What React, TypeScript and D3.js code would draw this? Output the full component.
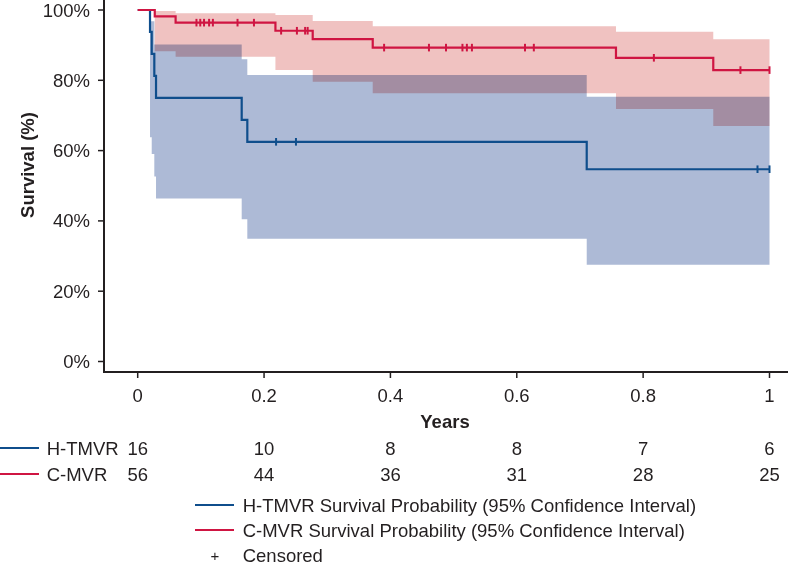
import React from "react";
import * as d3 from "d3";

// ---------- data ----------
const xTicks = [0, 0.2, 0.4, 0.6, 0.8, 1];
const xTickLabels = ["0", "0.2", "0.4", "0.6", "0.8", "1"];
const yTicks = [0, 20, 40, 60, 80, 100];
const yTickLabels = ["0%", "20%", "40%", "60%", "80%", "100%"];

// H-TMVR (blue)
const hTimes = [0, 0.0195, 0.0222, 0.0263, 0.029, 0.1646, 0.1735, 0.7107];
const hSurv = [100, 93.75, 87.5, 81.25, 75, 68.75, 62.5, 54.7];
const hUpper = [100, 96.8, 96.8, 90.2, 90.2, 86.0, 81.5, 75.3];
const hLower = [100, 63.8, 59.0, 52.6, 46.4, 40.5, 34.9, 27.5];
const hCensored = [0.219, 0.2505, 0.981, 1.0];

// C-MVR (red)
const cTimes = [0, 0.027, 0.06, 0.218, 0.277, 0.372, 0.757, 0.911];
const cSurv = [100, 98.2, 96.4, 94.1, 91.7, 89.3, 86.4, 82.9];
const cUpper = [100, 99.7, 99.1, 98.6, 96.9, 95.4, 93.8, 91.7];
const cLower = [100, 88.3, 86.7, 82.9, 79.6, 76.3, 71.8, 67.0];
const cCensored = [
  0.093, 0.099, 0.105, 0.113, 0.119, 0.158, 0.184, 0.227, 0.252, 0.265, 0.269,
  0.39, 0.461, 0.488, 0.514, 0.521, 0.529, 0.613, 0.627, 0.817, 0.954, 1.0,
];

const atRiskTimes = [0, 0.2, 0.4, 0.6, 0.8, 1];
const hAtRisk = [16, 10, 8, 8, 7, 6];
const cAtRisk = [56, 44, 36, 31, 28, 25];

const groupNames = ["H-TMVR", "C-MVR"];
const legendLabels = [
  "H-TMVR Survival Probability (95% Confidence Interval)",
  "C-MVR Survival Probability (95% Confidence Interval)",
  "Censored",
];

const END_TIME = 1.0;

// ---------- style ----------
const W = 788;
const H = 565;
const BLUE = "#0f4e8c";
const RED = "#cf1542";
const BLUE_BAND = "#adbad6";
const RED_BAND = "#f0c2c1";
const INK = "#231f20";
const FONT = "'Liberation Sans', Arial, Helvetica, sans-serif";
const FS = 18.5;

type Pt = { t: number; s: number; lo: number; hi: number };

function buildSeries(times: number[], surv: number[], lo: number[], hi: number[]): Pt[] {
  const pts = times.map((t, i) => ({ t, s: surv[i], lo: lo[i], hi: hi[i] }));
  const last = pts[pts.length - 1];
  pts.push({ t: END_TIME, s: last.s, lo: last.lo, hi: last.hi });
  return pts;
}

function survAt(times: number[], surv: number[], t: number) {
  let v = surv[0];
  for (let i = 0; i < times.length; i++) if (times[i] <= t + 1e-9) v = surv[i];
  return v;
}

export default function App() {
  const x = d3.scaleLinear().domain([0, 1]).range([137.7, 769.5]);
  const y = d3.scaleLinear().domain([0, 100]).range([361.5, 10]);

  const axisY = 372;
  const axisX = 104;

  const hSeries = buildSeries(hTimes, hSurv, hLower, hUpper);
  const cSeries = buildSeries(cTimes, cSurv, cLower, cUpper);

  const line = d3
    .line<Pt>()
    .x((d) => x(d.t))
    .y((d) => y(d.s))
    .curve(d3.curveStepAfter);
  const area = d3
    .area<Pt>()
    .x((d) => x(d.t))
    .y0((d) => y(d.lo))
    .y1((d) => y(d.hi))
    .curve(d3.curveStepAfter);

  const censorMarks = (times: number[], surv: number[], cens: number[], color: string, key: string) =>
    cens.map((t, i) => {
      const cx = x(t);
      const cy = y(survAt(times, surv, t));
      return (
        <line key={key + i} x1={cx} x2={cx} y1={cy - 3.8} y2={cy + 3.8} stroke={color} strokeWidth={2} />
      );
    });

  const rowY = [448, 474];
  const legendY = [505, 530, 555];

  return (
    <div>
      <style>{`body{margin:0}`}</style>
      <svg width={W} height={H} style={{ display: "block", fontFamily: FONT }}>
        <rect width={W} height={H} fill="#fff" />
        {/* bands */}
        <path d={area(hSeries.slice(1)) || ""} fill={BLUE_BAND} />
        <path d={area(cSeries.slice(1)) || ""} fill={RED_BAND} style={{ mixBlendMode: "multiply" }} />

        {/* KM lines */}
        <path d={line(hSeries) || ""} fill="none" stroke={BLUE} strokeWidth={2.2} />
        {censorMarks(hTimes, hSurv, hCensored, BLUE, "h")}
        <path d={line(cSeries) || ""} fill="none" stroke={RED} strokeWidth={2.2} />
        {censorMarks(cTimes, cSurv, cCensored, RED, "c")}

        {/* axes */}
        <line x1={axisX} x2={axisX} y1={0} y2={axisY + 1} stroke={INK} strokeWidth={2} />
        <line x1={axisX - 1} x2={W} y1={axisY} y2={axisY} stroke={INK} strokeWidth={2} />
        {yTicks.map((v, i) => (
          <g key={"yt" + i}>
            <line x1={axisX - 6} x2={axisX} y1={y(v)} y2={y(v)} stroke={INK} strokeWidth={1.5} />
            <text x={90} y={y(v)} textAnchor="end" dominantBaseline="central" fontSize={FS} fill={INK}>
              {yTickLabels[i]}
            </text>
          </g>
        ))}
        {xTicks.map((v, i) => (
          <g key={"xt" + i}>
            <line x1={x(v)} x2={x(v)} y1={axisY} y2={axisY + 6} stroke={INK} strokeWidth={1.5} />
            <text x={x(v)} y={395} textAnchor="middle" dominantBaseline="central" fontSize={FS} fill={INK}>
              {xTickLabels[i]}
            </text>
          </g>
        ))}
        <text x={445} y={421} textAnchor="middle" dominantBaseline="central" fontSize={FS} fontWeight="bold" fill={INK}>
          Years
        </text>
        <text
          transform={`translate(27,165) rotate(-90)`}
          textAnchor="middle"
          dominantBaseline="central"
          fontSize={FS}
          fontWeight="bold"
          fill={INK}
        >
          Survival (%)
        </text>

        {/* number at risk */}
        {[hAtRisk, cAtRisk].map((row, r) => (
          <g key={"row" + r}>
            <line x1={0} x2={39} y1={rowY[r]} y2={rowY[r]} stroke={r === 0 ? BLUE : RED} strokeWidth={2} />
            <text x={46.7} y={rowY[r]} dominantBaseline="central" fontSize={FS} fill={INK}>
              {groupNames[r]}
            </text>
            {row.map((n, i) => (
              <text
                key={i}
                x={x(atRiskTimes[i])}
                y={rowY[r]}
                textAnchor="middle"
                dominantBaseline="central"
                fontSize={FS}
                fill={INK}
              >
                {n}
              </text>
            ))}
          </g>
        ))}

        {/* legend */}
        <line x1={195} x2={234} y1={legendY[0]} y2={legendY[0]} stroke={BLUE} strokeWidth={2} />
        <line x1={195} x2={234} y1={legendY[1]} y2={legendY[1]} stroke={RED} strokeWidth={2} />
        <text x={215} y={legendY[2]} textAnchor="middle" dominantBaseline="central" fontSize={15} fill={INK}>
          +
        </text>
        {legendLabels.map((lab, i) => (
          <text key={"lg" + i} x={242.7} y={legendY[i]} dominantBaseline="central" fontSize={FS} fill={INK}>
            {lab}
          </text>
        ))}
      </svg>
    </div>
  );
}
